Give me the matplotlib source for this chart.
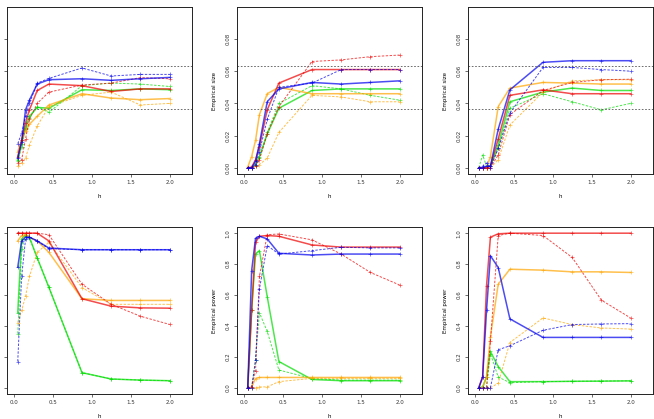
import matplotlib
matplotlib.use("Agg")
import matplotlib.pyplot as plt

h = [0.05, 0.1, 0.15, 0.2, 0.3, 0.45, 0.875, 1.25, 1.625, 2.0]

# top row: empirical size
s1_blue   = [0.006, 0.016, 0.036, 0.042, 0.052, 0.0547, 0.0553, 0.0543, 0.0553, 0.0561]
s1_blue_d = [0.015, 0.0215, 0.032, 0.040, 0.0526, 0.0555, 0.062, 0.057, 0.058, 0.058]
s1_red    = [0.007, 0.017, 0.028, 0.036, 0.048, 0.052, 0.051, 0.0474, 0.049, 0.049]
s1_red_d  = [0.003, 0.005, 0.018, 0.030, 0.040, 0.047, 0.0514, 0.0526, 0.056, 0.0553]
s1_green  = [0.005, 0.015, 0.025, 0.032, 0.0375, 0.037, 0.0485, 0.048, 0.049, 0.0485]
s1_green_d= [0.004, 0.013, 0.024, 0.031, 0.038, 0.0344, 0.051, 0.0526, 0.052, 0.0505]
s1_orange = [0.010, 0.0174, 0.0226, 0.027, 0.032, 0.039, 0.046, 0.0433, 0.0423, 0.043]
s1_orange_d=[0.001, 0.003, 0.006, 0.014, 0.026, 0.038, 0.045, 0.047, 0.039, 0.040]

s2_blue   = [0.0, 0.0, 0.004, 0.015, 0.041, 0.049, 0.053, 0.052, 0.053, 0.054]
s2_blue_d = [0.0, 0.0, 0.002, 0.010, 0.030, 0.050, 0.0526, 0.061, 0.061, 0.061]
s2_red    = [0.0, 0.0005, 0.005, 0.013, 0.036, 0.0526, 0.061, 0.061, 0.061, 0.061]
s2_red_d  = [0.0, 0.0, 0.001, 0.005, 0.021, 0.038, 0.066, 0.067, 0.069, 0.070]
s2_green  = [0.0, 0.0, 0.002, 0.007, 0.021, 0.037, 0.048, 0.049, 0.049, 0.049]
s2_green_d= [0.0, 0.0, 0.001, 0.006, 0.022, 0.040, 0.051, 0.049, 0.045, 0.042]
s2_orange = [0.0005, 0.007, 0.017, 0.033, 0.046, 0.050, 0.046, 0.046, 0.046, 0.046]
s2_orange_d=[0.0, 0.0, 0.001, 0.002, 0.006, 0.022, 0.045, 0.044, 0.041, 0.041]

s3_blue   = [0.0, 0.0, 0.001, 0.001, 0.024, 0.0484, 0.0655, 0.0665, 0.0665, 0.0665]
s3_blue_d = [0.0, 0.001, 0.003, 0.0, 0.012, 0.034, 0.0623, 0.0623, 0.061, 0.060]
s3_red    = [0.0, 0.0, 0.0, 0.001, 0.018, 0.045, 0.0484, 0.046, 0.046, 0.046]
s3_red_d  = [0.0, 0.0, 0.0, 0.0, 0.008, 0.033, 0.048, 0.053, 0.0547, 0.055]
s3_green  = [0.0, 0.0, 0.0, 0.001, 0.014, 0.041, 0.047, 0.0495, 0.048, 0.048]
s3_green_d= [0.0, 0.008, 0.001, 0.001, 0.012, 0.037, 0.046, 0.041, 0.036, 0.040]
s3_orange = [0.0, 0.0, 0.0, 0.007, 0.038, 0.0495, 0.053, 0.0526, 0.052, 0.052]
s3_orange_d=[0.0, 0.0, 0.0, 0.0, 0.005, 0.0266, 0.047, 0.054, 0.0547, 0.0547]

# bottom row: empirical power
p1_blue   = [0.78, 0.95, 0.974, 0.974, 0.95, 0.904, 0.893, 0.893, 0.893, 0.893]
p1_blue_d = [0.17, 0.72, 0.96, 0.974, 0.95, 0.90, 0.893, 0.893, 0.893, 0.893]
p1_red    = [1.0, 1.0, 1.0, 1.0, 1.0, 0.95, 0.576, 0.528, 0.517, 0.515]
p1_red_d  = [1.0, 1.0, 1.0, 1.0, 1.0, 0.99, 0.67, 0.54, 0.463, 0.41]
p1_green  = [0.485, 0.963, 0.99, 0.974, 0.84, 0.65, 0.098, 0.057, 0.05, 0.046]
p1_green_d= [0.35, 0.90, 0.98, 0.97, 0.84, 0.65, 0.098, 0.057, 0.05, 0.046]
p1_orange = [0.95, 0.985, 0.99, 0.974, 0.95, 0.876, 0.576, 0.565, 0.565, 0.565]
p1_orange_d=[0.42, 0.50, 0.593, 0.72, 0.876, 0.94, 0.648, 0.54, 0.54, 0.54]

p2_blue   = [0.0, 0.757, 0.967, 0.98, 0.963, 0.87, 0.859, 0.865, 0.865, 0.865]
p2_blue_d = [0.0, 0.0, 0.18, 0.64, 0.92, 0.865, 0.887, 0.909, 0.905, 0.905]
p2_red    = [0.0, 0.50, 0.94, 0.98, 0.985, 0.98, 0.924, 0.91, 0.91, 0.91]
p2_red_d  = [0.0, 0.005, 0.11, 0.72, 0.99, 0.995, 0.957, 0.865, 0.746, 0.665]
p2_green  = [0.005, 0.50, 0.865, 0.887, 0.59, 0.17, 0.054, 0.046, 0.046, 0.046]
p2_green_d= [0.0, 0.0, 0.18, 0.485, 0.365, 0.115, 0.06, 0.05, 0.05, 0.05]
p2_orange = [0.0, 0.006, 0.06, 0.067, 0.067, 0.067, 0.067, 0.067, 0.067, 0.067]
p2_orange_d=[0.0, 0.0, 0.0, 0.006, 0.006, 0.04, 0.061, 0.061, 0.061, 0.061]

p3_blue   = [0.0, 0.07, 0.50, 0.854, 0.778, 0.446, 0.326, 0.326, 0.326, 0.326]
p3_blue_d = [0.0, 0.0, 0.0, 0.0, 0.246, 0.272, 0.372, 0.409, 0.413, 0.415]
p3_red    = [0.0, 0.07, 0.66, 0.974, 0.996, 1.0, 1.0, 1.0, 1.0, 1.0]
p3_red_d  = [0.0, 0.0, 0.0, 0.30, 0.985, 1.0, 0.985, 0.843, 0.567, 0.452]
p3_green  = [0.0, 0.006, 0.07, 0.235, 0.137, 0.04, 0.04, 0.042, 0.043, 0.045]
p3_green_d= [0.0, 0.0, 0.0, 0.22, 0.07, 0.033, 0.04, 0.042, 0.044, 0.045]
p3_orange = [0.0, 0.0, 0.07, 0.33, 0.67, 0.767, 0.761, 0.75, 0.75, 0.746]
p3_orange_d=[0.0, 0.0, 0.0, 0.0, 0.03, 0.293, 0.452, 0.409, 0.387, 0.38]

size_panels = [
    (s1_blue, s1_blue_d, s1_red, s1_red_d, s1_green, s1_green_d, s1_orange, s1_orange_d),
    (s2_blue, s2_blue_d, s2_red, s2_red_d, s2_green, s2_green_d, s2_orange, s2_orange_d),
    (s3_blue, s3_blue_d, s3_red, s3_red_d, s3_green, s3_green_d, s3_orange, s3_orange_d),
]
power_panels = [
    (p1_blue, p1_blue_d, p1_red, p1_red_d, p1_green, p1_green_d, p1_orange, p1_orange_d),
    (p2_blue, p2_blue_d, p2_red, p2_red_d, p2_green, p2_green_d, p2_orange, p2_orange_d),
    (p3_blue, p3_blue_d, p3_red, p3_red_d, p3_green, p3_green_d, p3_orange, p3_orange_d),
]
colors = ["#0000ee", "#0000ee", "#ee0000", "#ee0000", "#00dd00", "#00dd00", "#ffa500", "#ffa500"]
nominal = 0.05
band = 0.0135

W, H = 654, 419
lefts = [7, 237, 468]
tops = [7, 227]
aw, ah = 185, 167

fig = plt.figure(figsize=(W / 100, H / 100), dpi=100)
fig.patch.set_facecolor("white")


def draw(ax, series, top, show_y):
    order = [4, 5, 6, 7, 2, 3, 0, 1]
    for i in order:
        dashed = i % 2 == 1
        ax.plot(h, series[i], color=colors[i], alpha=0.7,
                lw=0.7 if dashed else 1.1,
                ls=(0, (2.5, 1.5)) if dashed else "-",
                marker="+", ms=2.2, mew=0.5)
    ax.set_xlim(-0.088, 2.288)
    ax.set_xticks([0.0, 0.5, 1.0, 1.5, 2.0])
    ax.set_xticklabels(["0.0", "0.5", "1.0", "1.5", "2.0"])
    if top:
        ax.set_ylim(-0.00384, 0.09984)
        ax.set_yticks([0.0, 0.02, 0.04, 0.06, 0.08])
        ax.set_yticklabels(["0.00", "0.02", "0.04", "0.06", "0.08"], rotation=90, va="center")
        ax.axhline(nominal + band, color="#555555", lw=0.6, ls=(0, (2, 2)))
        ax.axhline(nominal - band, color="#555555", lw=0.6, ls=(0, (2, 2)))
        ylab = "Empirical size"
    else:
        ax.set_ylim(-0.04, 1.04)
        ax.set_yticks([0.0, 0.2, 0.4, 0.6, 0.8, 1.0])
        ax.set_yticklabels(["0.0", "0.2", "0.4", "0.6", "0.8", "1.0"], rotation=90, va="center")
        ylab = "Empirical power"
    if show_y:
        ax.set_ylabel(ylab, fontsize=4, labelpad=6)
    else:
        # the left column's y labels fall outside the cropped picture
        ax.tick_params(axis="y", labelleft=False)
    ax.set_xlabel("h", fontsize=4, labelpad=6)
    ax.tick_params(direction="out", length=2.5, width=0.5, labelsize=4, pad=2, colors="#333333")
    for sp in ax.spines.values():
        sp.set_linewidth(0.7)
        sp.set_color("#222222")


for r, panels in enumerate([size_panels, power_panels]):
    for c, series in enumerate(panels):
        ax = fig.add_axes([lefts[c] / W, (H - tops[r] - ah) / H, aw / W, ah / H])
        draw(ax, series, r == 0, c > 0)

fig.savefig("out.png", dpi=100, facecolor="white")
